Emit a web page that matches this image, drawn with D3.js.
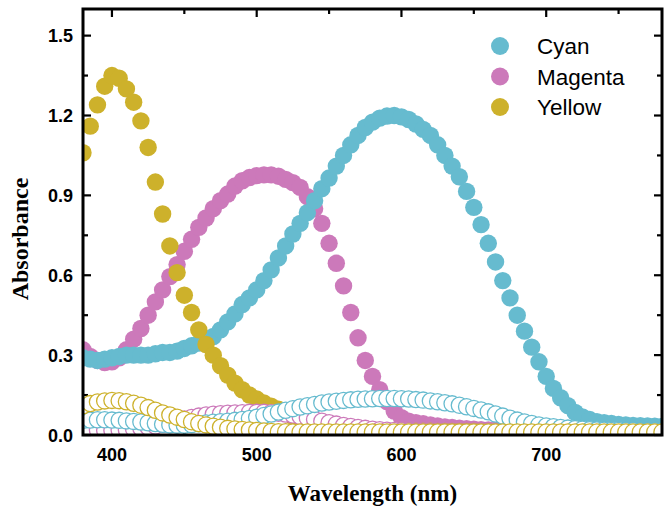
<!DOCTYPE html>
<html>
<head>
<meta charset="utf-8">
<script src="https://cdn.jsdelivr.net/npm/d3@7"></script>
<style>
  body { margin: 0; background: #fff; }
  svg { display: block; }
</style>
</head>
<body>
<svg class="chart" width="664" height="509"></svg>
<script>
// wavelength grid (nm)
var wavelengths = [
  380,385,390,395,400,405,410,415,420,425,
  430,435,440,445,450,455,460,465,470,475,
  480,485,490,495,500,505,510,515,520,525,
  530,535,540,545,550,555,560,565,570,575,
  580,585,590,595,600,605,610,615,620,625,
  630,635,640,645,650,655,660,665,670,675,
  680,685,690,695,700,705,710,715,720,725,
  730,735,740,745,750,755,760,765,770,775,
  780];

// filled markers
var cyanFilled = [
  0.29,0.285,0.28,0.285,0.29,0.295,0.30,0.30,0.30,0.30,
  0.305,0.31,0.31,0.315,0.325,0.335,0.345,0.355,0.37,0.395,
  0.425,0.455,0.49,0.515,0.545,0.58,0.62,0.665,0.71,0.755,
  0.795,0.835,0.88,0.925,0.965,1.01,1.05,1.09,1.125,1.155,
  1.175,1.19,1.198,1.2,1.195,1.185,1.168,1.148,1.125,1.09,
  1.05,1.01,0.97,0.915,0.855,0.79,0.72,0.65,0.58,0.515,
  0.45,0.39,0.33,0.275,0.22,0.175,0.14,0.11,0.085,0.068,
  0.058,0.05,0.046,0.043,0.04,0.038,0.036,0.035,0.034,0.033,
  0.032];
var magentaFilled = [
  0.32,0.295,0.28,0.272,0.275,0.29,0.32,0.36,0.40,0.45,
  0.50,0.545,0.595,0.64,0.69,0.735,0.78,0.815,0.85,0.88,
  0.905,0.935,0.955,0.967,0.974,0.977,0.977,0.972,0.96,0.948,
  0.93,0.895,0.85,0.795,0.72,0.645,0.56,0.46,0.365,0.28,
  0.22,0.17,0.125,0.09,0.065,0.052,0.046,0.042,0.038,0.034,
  0.03,0.028,0.026,0.024,0.022,0.02,0.019,0.018,0.017,0.016,
  0.015,0.015,0.014,0.014,0.014,0.013,0.013,0.013,0.013,0.012,
  0.012,0.012,0.012,0.012,0.012,0.012,0.012,0.012,0.012,0.012,
  0.012];
var yellowFilled = [
  1.06,1.16,1.24,1.31,1.35,1.34,1.30,1.25,1.18,1.08,
  0.95,0.83,0.71,0.61,0.525,0.46,0.395,0.34,0.30,0.26,
  0.225,0.195,0.17,0.15,0.135,0.12,0.108,0.097,0.085,0.07,
  0.055,0.045,0.038,0.032,0.028,0.025,0.022,0.02,0.018,0.017,
  0.016,0.016,0.015,0.015,0.015,0.014,0.014,0.014,0.014,0.013,
  0.013,0.013,0.013,0.013,0.013,0.012,0.012,0.012,0.012,0.012,
  0.012,0.012,0.012,0.012,0.012,0.012,0.012,0.012,0.012,0.012,
  0.012,0.012,0.012,0.012,0.012,0.012,0.012,0.012,0.012,0.012,
  0.012];

// open markers
var cyanOpen = [
  0.055,0.056,0.057,0.057,0.056,0.055,0.053,0.051,0.049,0.046,
  0.043,0.04,0.038,0.037,0.037,0.039,0.042,0.045,0.048,0.05,
  0.052,0.055,0.058,0.062,0.067,0.073,0.079,0.086,0.093,0.099,
  0.105,0.11,0.115,0.12,0.124,0.127,0.13,0.132,0.134,0.135,
  0.136,0.137,0.137,0.137,0.136,0.135,0.133,0.131,0.128,0.125,
  0.121,0.117,0.112,0.106,0.1,0.094,0.087,0.079,0.071,0.063,
  0.056,0.049,0.043,0.038,0.034,0.031,0.028,0.026,0.024,0.022,
  0.02,0.019,0.018,0.017,0.017,0.016,0.016,0.015,0.015,0.015,
  0.015];
var magentaOpen = [
  0.022,0.02,0.019,0.018,0.018,0.019,0.02,0.022,0.025,0.029,
  0.034,0.04,0.046,0.053,0.06,0.066,0.071,0.075,0.078,0.08,
  0.082,0.083,0.084,0.085,0.085,0.085,0.084,0.082,0.079,0.075,
  0.07,0.064,0.058,0.052,0.046,0.041,0.036,0.032,0.028,0.025,
  0.022,0.02,0.018,0.017,0.016,0.015,0.014,0.014,0.013,0.013,
  0.012,0.012,0.012,0.012,0.012,0.012,0.012,0.012,0.012,0.012,
  0.012,0.012,0.012,0.012,0.012,0.012,0.012,0.012,0.012,0.012,
  0.012,0.012,0.012,0.012,0.012,0.012,0.012,0.012,0.012,0.012,
  0.012];
var yellowOpen = [
  0.11,0.118,0.124,0.128,0.13,0.129,0.125,0.119,0.112,0.103,
  0.093,0.083,0.075,0.067,0.058,0.05,0.043,0.038,0.033,0.029,
  0.025,0.023,0.021,0.019,0.017,0.015,0.013,0.012,0.012,0.011,
  0.011,0.011,0.011,0.011,0.011,0.011,0.011,0.011,0.011,0.011,
  0.011,0.011,0.011,0.011,0.011,0.011,0.011,0.011,0.011,0.011,
  0.011,0.011,0.011,0.011,0.011,0.011,0.011,0.011,0.011,0.011,
  0.011,0.011,0.011,0.011,0.011,0.011,0.011,0.011,0.011,0.011,
  0.011,0.011,0.011,0.011,0.011,0.011,0.011,0.011,0.011,0.011,
  0.011];

var legendNames = ["Cyan", "Magenta", "Yellow"];
var colors = { Cyan: "#66bbcf", Magenta: "#cc79ba", Yellow: "#cdb12b" };
var xMajor = [400, 500, 600, 700], xMinor = [450, 550, 650, 750];
var yMajor = [0, 0.3, 0.6, 0.9, 1.2, 1.5], yMinor = [0.15, 0.45, 0.75, 1.05, 1.35];

var svg = d3.select(".chart"),
    pLeft = 83, pRight = 662, pTop = 9, pBottom = 435,
    r = 8.7;

var x = d3.scaleLinear().domain([380, 780]).range([pLeft, pRight]);
var y = d3.scaleLinear().domain([0, 1.6]).range([pBottom, pTop]);

svg.append("defs").append("clipPath").attr("id", "plotclip")
    .append("rect")
    .attr("x", pLeft).attr("y", pTop)
    .attr("width", pRight - pLeft).attr("height", pBottom - pTop);

// tick marks, pointing inward on all four sides
var ticks = svg.append("g").attr("stroke", "#000").attr("stroke-width", 2.2);
function addTicks(vals, len) {
    vals.forEach(function(v) {
        ticks.append("line").attr("x1", x(v)).attr("x2", x(v)).attr("y1", pBottom).attr("y2", pBottom - len);
        ticks.append("line").attr("x1", x(v)).attr("x2", x(v)).attr("y1", pTop).attr("y2", pTop + len);
    });
}
function addYTicks(vals, len) {
    vals.forEach(function(v) {
        ticks.append("line").attr("y1", y(v)).attr("y2", y(v)).attr("x1", pLeft).attr("x2", pLeft + len);
        ticks.append("line").attr("y1", y(v)).attr("y2", y(v)).attr("x1", pRight).attr("x2", pRight - len);
    });
}
addTicks(xMajor, 8); addTicks(xMinor, 5);
addYTicks(yMajor, 8); addYTicks(yMinor, 5);

var plot = svg.append("g").attr("clip-path", "url(#plotclip)");

function drawFilled(vals, name) {
    plot.append("g").selectAll("circle")
        .data(vals)
        .enter().append("circle")
        .attr("cx", function(d, i) { return x(wavelengths[i]); })
        .attr("cy", function(d) { return y(d); })
        .attr("r", r)
        .attr("fill", colors[name]);
}
function drawOpen(vals, name) {
    plot.append("g").selectAll("circle")
        .data(vals)
        .enter().append("circle")
        .attr("cx", function(d, i) { return x(wavelengths[i]); })
        .attr("cy", function(d) { return y(d); })
        .attr("r", r - 0.6)
        .attr("fill", "#fff")
        .attr("stroke", colors[name])
        .attr("stroke-width", 1.3);
}
drawFilled(magentaFilled, "Magenta");
drawFilled(cyanFilled, "Cyan");
drawFilled(yellowFilled, "Yellow");
drawOpen(magentaOpen, "Magenta");
drawOpen(cyanOpen, "Cyan");
drawOpen(yellowOpen, "Yellow");

// frame
svg.append("rect")
    .attr("x", pLeft).attr("y", pTop)
    .attr("width", pRight - pLeft).attr("height", pBottom - pTop)
    .attr("fill", "none").attr("stroke", "#000").attr("stroke-width", 3);

// tick labels
svg.append("g").selectAll("text")
    .data(xMajor)
    .enter().append("text")
    .attr("x", function(d) { return x(d); })
    .attr("y", 461)
    .attr("text-anchor", "middle")
    .attr("font-family", "Liberation Sans, Arial, sans-serif")
    .attr("font-weight", "bold")
    .attr("font-size", 18)
    .text(function(d) { return d; });

svg.append("g").selectAll("text")
    .data(yMajor)
    .enter().append("text")
    .attr("x", 73)
    .attr("y", function(d) { return y(d) + 6.5; })
    .attr("text-anchor", "end")
    .attr("font-family", "Liberation Sans, Arial, sans-serif")
    .attr("font-weight", "bold")
    .attr("font-size", 18)
    .text(function(d) { return d3.format(".1f")(d); });

// axis titles
svg.append("text")
    .attr("x", (pLeft + pRight) / 2)
    .attr("y", 501)
    .attr("text-anchor", "middle")
    .attr("font-family", "Liberation Serif, Times New Roman, serif")
    .attr("font-weight", "bold")
    .attr("font-size", 23)
    .text("Wavelength (nm)");

svg.append("text")
    .attr("transform", "translate(28,239) rotate(-90)")
    .attr("text-anchor", "middle")
    .attr("font-family", "Liberation Serif, Times New Roman, serif")
    .attr("font-weight", "bold")
    .attr("font-size", 24)
    .text("Absorbance");

// legend
var legend = svg.append("g");
legendNames.forEach(function(name, i) {
    var cy = 46 + i * 30.5;
    legend.append("circle")
        .attr("cx", 500).attr("cy", cy).attr("r", 9)
        .attr("fill", colors[name]);
    legend.append("text")
        .attr("x", 537).attr("y", cy + 8)
        .attr("font-family", "Liberation Sans, Arial, sans-serif")
        .attr("font-size", 22.5)
        .text(name);
});
</script>
</body>
</html>
